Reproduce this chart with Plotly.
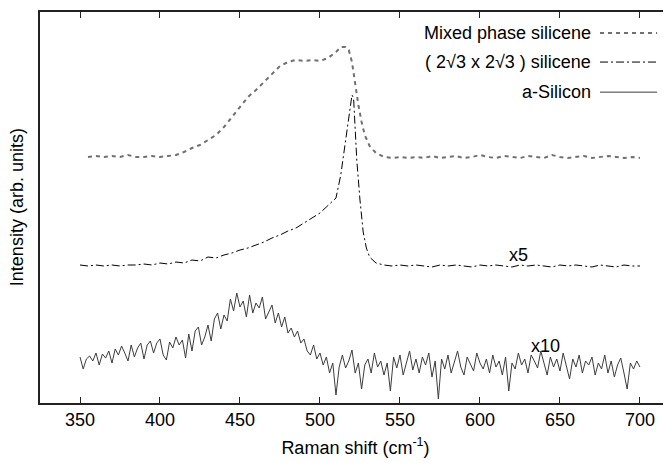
import plotly.graph_objects as go

# ---- data (arbitrary intensity units, offset traces) ----
mixed_x = [355, 360, 365, 370, 375, 380, 385, 390, 395, 400, 405, 410, 415, 420, 425, 430, 435, 440,
           445, 450, 455, 460, 465, 470, 475, 480, 485, 490, 495, 500, 505, 510, 513, 516, 518, 520,
           522, 524, 526, 528, 531, 535, 540, 545, 550, 555, 560, 565, 570, 575, 580, 585, 590, 595,
           600, 605, 610, 615, 620, 625, 630, 635, 640, 645, 650, 655, 660, 665, 670, 675, 680, 685,
           690, 695, 700]
mixed_y = [246, 247, 246, 247, 246, 248, 246, 246, 247, 246, 247, 248, 251, 255, 258, 263, 268, 276,
           286, 297, 306, 313, 321, 329, 337, 341, 343, 342, 343, 342, 345, 351, 356, 356, 353, 341,
           318, 298, 281, 268, 257, 250, 246, 245, 246, 245, 246, 245, 247, 245, 246, 247, 245, 246,
           248, 246, 245, 247, 246, 245, 247, 246, 245, 248, 246, 245, 246, 247, 245, 246, 247, 246,
           245, 246, 245]

sil_x = [350, 355, 360, 365, 370, 375, 380, 385, 390, 395, 400, 405, 410, 415, 420, 425, 430, 435,
         440, 445, 450, 455, 460, 465, 470, 475, 480, 485, 490, 495, 500, 504, 507, 510, 513, 516,
         518, 520, 521, 522, 523, 525, 527, 529, 531, 535, 540, 545, 550, 555, 560, 565, 570, 575,
         580, 585, 590, 595, 600, 605, 610, 615, 620, 625, 630, 635, 640, 645, 650, 655, 660, 665,
         670, 675, 680, 685, 690, 695, 700]
sil_y = [138, 137, 138, 137, 138, 137, 138, 138, 139, 138, 140, 139, 141, 140, 143, 142, 146, 145,
         148, 150, 153, 155, 158, 161, 165, 168, 172, 175, 180, 185, 190, 196, 201, 205, 228, 263,
         288, 308, 305, 278, 243, 203, 171, 155, 146, 140, 138, 137, 138, 137, 138, 137, 136, 138,
         137, 138, 137, 136, 138, 137, 138, 137, 136, 138, 137, 138, 137, 136, 138, 137, 138, 137,
         136, 138, 137, 136, 138, 137, 137]

asi_x = list(range(350, 701, 2))
asi_y = [46, 34, 44, 47, 42, 50, 38, 49, 45, 52,
         40, 54, 48, 57, 50, 42, 58, 46, 55, 60,
         44, 58, 62, 50, 60, 64, 48, 43, 61, 55,
         66, 58, 63, 45, 69, 52, 72, 76, 58, 66,
         78, 62, 84, 90, 74, 88, 82, 104, 92, 110,
         96, 102, 86, 108, 90, 100, 95, 106, 84, 92,
         98, 80, 90, 76, 86, 70, 75, 66, 72, 60,
         64, 52, 48, 58, 44, 50, 38, 46, 30, 40,
         8, 36, 48, 35, 42, 53, 30, 40, 14, 38,
         44, 30, 50, 36, 42, 28, 40, 12, 46, 35,
         48, 28, 40, 52, 33, 44, 30, 46, 38, 50,
         26, 42, 4, 44, 34, 48, 30, 40, 52, 36,
         28, 46, 38, 32, 50, 40, 34, 44, 30, 48,
         36, 42, 28, 46, 12, 40, 34, 50, 38, 44,
         30, 48, 42, 35, 52, 40, 28, 46, 36, 44,
         32, 50, 38, 24, 44, 36, 48, 30, 42, 38,
         46, 28, 40, 34, 48, 30, 42, 26, 38, 45,
         30, 14, 40, 34, 42, 36]

series_names = ["Mixed phase silicene", "( 2\u221a3 x 2\u221a3 ) silicene", "a-Silicon"]
scale_labels = ["x5", "x10"]
scale_label_x = [624, 641]
scale_label_y = [148, 57]
x_ticks = [350, 400, 450, 500, 550, 600, 650, 700]

FONT = "Liberation Sans, Arial, Helvetica, sans-serif"
styles = [
    dict(color="#707070", width=2, dash="4px,4px"),
    dict(color="#000000", width=1, dash="8px,3px,2px,3px"),
    dict(color="#3c3c3c", width=1, dash="solid"),
]

fig = go.Figure()
for xs, ys, st, nm in zip([mixed_x, sil_x, asi_x], [mixed_y, sil_y, asi_y], styles, series_names):
    fig.add_trace(go.Scatter(x=xs, y=ys, mode="lines", line=st, name=nm, showlegend=False))

# scale factor labels
for t, xx, yy in zip(scale_labels, scale_label_x, scale_label_y):
    fig.add_annotation(x=xx, y=yy, text=t, showarrow=False, xanchor="center", yanchor="middle",
                       font=dict(family=FONT, size=18, color="#000"))

# manual legend (text on the left, sample line on the right)
leg_y = [0.946, 0.872, 0.795]
for nm, st, yy in zip(series_names, styles, leg_y):
    fig.add_annotation(xref="paper", yref="paper", x=0.876, y=yy, text=nm, showarrow=False,
                       xanchor="right", yanchor="middle", font=dict(family=FONT, size=18, color="#000"))
    fig.add_shape(type="line", xref="paper", yref="paper", x0=0.8875, x1=0.978, y0=yy, y1=yy,
                  line=st)

# y-axis title as rotated annotation
fig.add_annotation(xref="paper", yref="paper", x=-0.037, y=0.5, text="Intensity (arb. units)",
                   textangle=-90, showarrow=False, xanchor="center", yanchor="middle",
                   font=dict(family=FONT, size=18, color="#000"))

# page body has an 8px margin: figure is sized/offset so the plot box sits where the reference has it
fig.update_layout(
    width=663, height=455,
    margin=dict(l=32, r=0, t=4, b=60, autoexpand=False),
    paper_bgcolor="white", plot_bgcolor="white",
    font=dict(family=FONT, size=18, color="#000"),
    showlegend=False,
    xaxis=dict(range=[325, 719.4], tickvals=x_ticks, ticks="inside", ticklen=6, tickcolor="#222",
               showline=True, linecolor="#222", linewidth=1.5, mirror="ticks", showgrid=False,
               zeroline=False, tickfont=dict(size=18), automargin=False,
               title=dict(text="Raman shift (cm<sup>-1</sup>)", font=dict(size=18), standoff=12)),
    yaxis=dict(range=[0, 391], showticklabels=False, ticks="", showline=True, linecolor="#222",
               linewidth=1.5, mirror=False, showgrid=False, zeroline=False, automargin=False),
)

fig.write_html("out.html")
